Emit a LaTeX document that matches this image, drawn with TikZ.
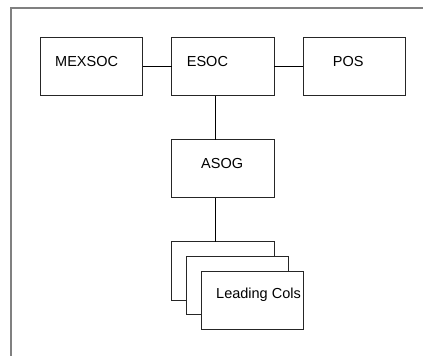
\documentclass[tikz,border=0pt]{standalone}
\usepackage{fontspec}
\setmainfont{Liberation Sans}
\begin{document}
\begin{tikzpicture}[x=1pt,y=-1pt,
  box/.style={draw=black!85,line width=0.9pt,fill=white,minimum width=102.5pt,minimum height=58.4pt,inner sep=0pt,outer sep=0pt},
  lbl/.style={anchor=west,inner sep=0pt,font=\fontsize{14.5}{16}\selectfont},
  conn/.style={draw=black,line width=0.9pt}]
\useasboundingbox (0,0) rectangle (423,356);
\draw[gray,line width=1.4pt] (11,356) -- (11,8) -- (423,8);
\node[box] (mex) at (91.5,66.5) {};
\node[box] (esoc) at (223,66.5) {};
\node[box] (pos) at (354.4,66.5) {};
\node[box] (asog) at (223,168.7) {};
\node[box] (lc1) at (223,271) {};
\node[box] (lc2) at (237.5,285.5) {};
\node[box] (lc3) at (252.2,300.2) {};
\node[lbl] (tmex) at (55,62) {MEXSOC};
\node[lbl] (tesoc) at (186.7,62) {ESOC};
\node[lbl] (tpos) at (332.7,62) {POS};
\node[lbl] (tasog) at (201,164) {ASOG};
\node[lbl] (tlc) at (216,295) {Leading Cols};
\coordinate (e1) at ([xshift=-7.3pt]esoc.south);
\coordinate (a1) at ([xshift=-7.3pt]asog.north);
\coordinate (a2) at ([xshift=-7.3pt]asog.south);
\coordinate (l1) at ([xshift=-7.3pt]lc1.north);
\draw[conn] (mex.east) -- (esoc.west);
\draw[conn] (esoc.east) -- (pos.west);
\draw[conn] (e1) -- (a1);
\draw[conn] (a2) -- (l1);
\end{tikzpicture}
\end{document}
